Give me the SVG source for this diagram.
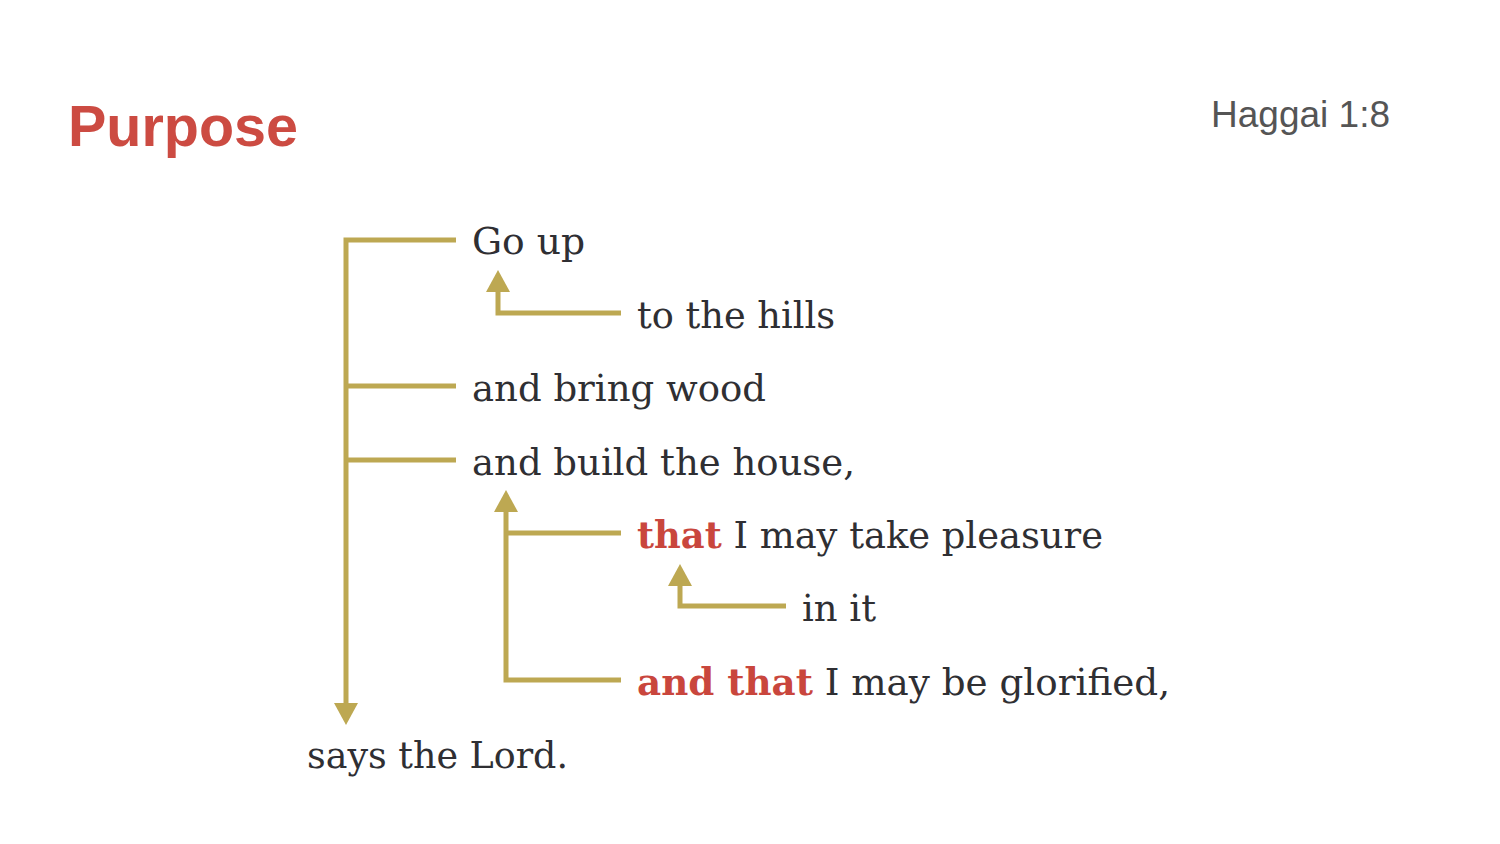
<svg xmlns="http://www.w3.org/2000/svg" width="1500" height="844" viewBox="0 0 1500 844">
<style>
.ln{fill:none;stroke:#BDA852;stroke-width:5;stroke-linejoin:miter;stroke-linecap:butt}
.tx{font-family:"DejaVu Serif","Liberation Serif",serif;font-size:38px;fill:#2f2f33}
.hl{fill:#C9463D;font-weight:bold}
</style>
<defs>
<marker id="ah" viewBox="0 0 22 24" refX="2" refY="12" markerWidth="22" markerHeight="24" markerUnits="userSpaceOnUse" orient="auto">
<path d="M0,0 L22,12 L0,24 z" fill="#BDA852"/>
</marker>
</defs>
<rect width="1500" height="844" fill="#ffffff"/>
<text id="title" x="68" y="146" font-family="'Liberation Sans',Arial,sans-serif" font-weight="bold" font-size="57" fill="#CC4B42" textLength="230" lengthAdjust="spacingAndGlyphs">Purpose</text>
<text id="ref" x="1211" y="127" font-family="'Liberation Sans',Arial,sans-serif" font-size="37" fill="#555555" textLength="179" lengthAdjust="spacingAndGlyphs">Haggai 1:8</text>
<g id="connectors">
<path class="ln" d="M456,240 H346 V705" marker-end="url(#ah)"/>
<path class="ln" d="M456,386 H346"/>
<path class="ln" d="M456,460 H346"/>
<path class="ln" d="M621,313 H498 V290" marker-end="url(#ah)"/>
<path class="ln" d="M621,680 H506 V510" marker-end="url(#ah)"/>
<path class="ln" d="M621,533 H506"/>
<path class="ln" d="M786,606 H680 V584" marker-end="url(#ah)"/>
</g>
<g id="n1"><text class="tx" x="472" y="254" textLength="113" lengthAdjust="spacingAndGlyphs">Go up</text></g>
<g id="n2"><text class="tx" x="637" y="328" textLength="198" lengthAdjust="spacingAndGlyphs">to the hills</text></g>
<g id="n3"><text class="tx" x="472" y="401" textLength="294" lengthAdjust="spacingAndGlyphs">and bring wood</text></g>
<g id="n4"><text class="tx" x="472" y="475" textLength="383" lengthAdjust="spacingAndGlyphs">and build the house,</text></g>
<g id="n5"><text class="tx" x="637" y="548" textLength="466" lengthAdjust="spacingAndGlyphs"><tspan class="hl">that</tspan> I may take pleasure</text></g>
<g id="n6"><text class="tx" x="802" y="621" textLength="74" lengthAdjust="spacingAndGlyphs">in it</text></g>
<g id="n7"><text class="tx" x="637" y="695" textLength="533" lengthAdjust="spacingAndGlyphs"><tspan class="hl">and that</tspan> I may be glorified,</text></g>
<g id="n8"><text class="tx" x="307" y="768" textLength="261" lengthAdjust="spacingAndGlyphs">says the Lord.</text></g>
</svg>
